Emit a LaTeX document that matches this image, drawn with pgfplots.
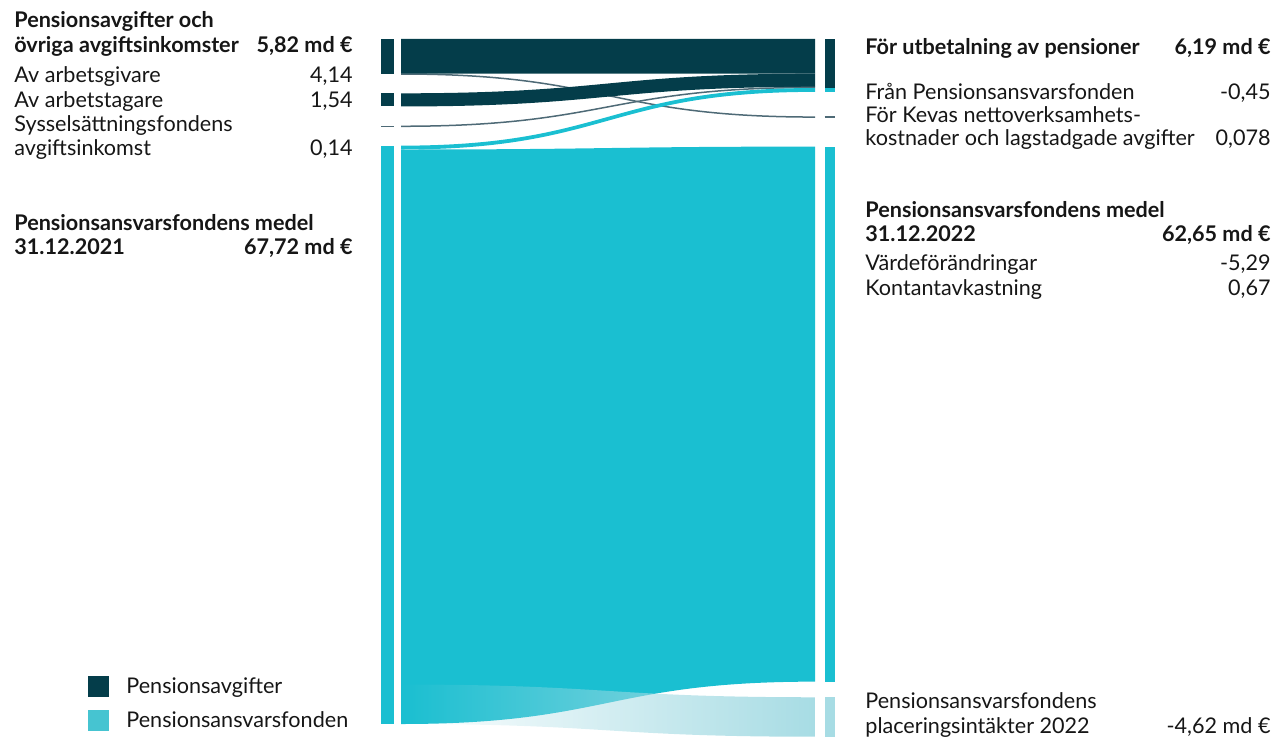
\documentclass[border=0pt]{standalone}
\usepackage{pgfplots}
\pgfplotsset{compat=1.18}
\usepackage{fontspec}
\setmainfont{Lato}
\usetikzlibrary{fadings}
\definecolor{dark}{HTML}{043D4A}
\definecolor{cyanc}{HTML}{1ABFD1}
\definecolor{lightc}{HTML}{A7DCE4}
\definecolor{legc}{HTML}{46C4D1}
\definecolor{thinc}{HTML}{4E6A76}
\definecolor{txt}{HTML}{161616}
\tikzfading[name=fadeleft, left color=transparent!100, right color=transparent!0]
% flow band: options, left top, left bottom, right top, right bottom (md EUR units)
\newcommand{\flow}[5]{%
  \fill[#1] (axis cs:401,#2) .. controls (axis cs:608,#2) and (axis cs:608,#4) .. (axis cs:815,#4)
    -- (axis cs:815,#5) .. controls (axis cs:608,#5) and (axis cs:608,#3) .. (axis cs:401,#3) -- cycle;}
\newcommand{\thinflow}[3]{%
  \draw[#1, line width=0.75pt] (axis cs:401,#2) .. controls (axis cs:608,#2) and (axis cs:608,#3) .. (axis cs:815,#3);}
\tikzset{
  rt/.style={font=\fontsize{10.8}{13}\selectfont, text=txt, inner sep=0pt},
  bt/.style={font=\fontsize{10.8}{13}\selectfont\bfseries, text=txt, inner sep=0pt},
}
\begin{document}
\begin{tikzpicture}
\useasboundingbox (0,0) rectangle (638.5pt,369pt);
% ---------- data axis: x in px, y in md EUR (stacked with gaps)
\begin{axis}[at={(0,0)}, anchor=south west, scale only axis,
  width=638.5pt, height=369pt, hide axis, clip=false,
  xmin=0, xmax=1277, ymin=-4.567, ymax=81.85, y dir=reverse]
% left nodes
\addplot[fill=dark, draw=none] coordinates {(381,0) (393.5,0) (393.5,4.14) (381,4.14)};
\addplot[fill=dark, draw=none] coordinates {(381,6.36) (393.5,6.36) (393.5,7.90) (381,7.90)};
\addplot[draw=thinc, line width=0.75pt] coordinates {(381,10.22) (393.5,10.22)};
\addplot[fill=cyanc, draw=none] coordinates {(381,12.49) (393.5,12.49) (393.5,80.21) (381,80.21)};
% right nodes
\addplot[fill=dark, draw=none] coordinates {(824.5,0) (835,0) (835,5.742) (824.5,5.742)};
\addplot[fill=cyanc, draw=none] coordinates {(824.5,5.742) (835,5.742) (835,6.19) (824.5,6.19)};
\addplot[draw=thinc, line width=0.75pt] coordinates {(824.5,9.14) (835,9.14)};
\addplot[fill=cyanc, draw=none] coordinates {(824.5,12.60) (835,12.60) (835,75.25) (824.5,75.25)};
\addplot[fill=lightc, draw=none] coordinates {(824.5,77.08) (835,77.08) (835,81.70) (824.5,81.70)};
% flows
\thinflow{thinc}{4.10}{9.14}
\flow{dark}{0}{4.062}{0}{4.062}
\flow{dark}{6.36}{7.90}{4.062}{5.602}
\thinflow{thinc}{10.22}{5.672}
\flow{cyanc}{12.49}{12.94}{5.742}{6.19}
\flow{cyanc}{12.94}{80.21}{12.60}{75.25}
\flow{lightc, path fading=fadeleft}{75.59}{80.21}{77.08}{81.70}
\end{axis}
% ---------- text axis: pixel coordinates
\begin{axis}[at={(0,0)}, anchor=south west, scale only axis,
  width=638.5pt, height=369pt, hide axis, clip=false,
  xmin=0, xmax=1277, ymin=0, ymax=738, y dir=reverse]
% left column
\node[bt, anchor=base west] at (axis cs:14,28) {Pensionsavgifter och};
\node[bt, anchor=base west] at (axis cs:14,53) {övriga avgiftsinkomster};
\node[bt, anchor=base east] at (axis cs:353,53) {5,82 md €};
\node[rt, anchor=base west] at (axis cs:14,83) {Av arbetsgivare};
\node[rt, anchor=base east] at (axis cs:353,83) {4,14};
\node[rt, anchor=base west] at (axis cs:14,107) {Av arbetstagare};
\node[rt, anchor=base east] at (axis cs:353,107) {1,54};
\node[rt, anchor=base west] at (axis cs:14,131) {Sysselsättningsfondens};
\node[rt, anchor=base west] at (axis cs:14,155.5) {avgiftsinkomst};
\node[rt, anchor=base east] at (axis cs:353,155.5) {0,14};
\node[bt, anchor=base west] at (axis cs:14,230) {Pensionsansvarsfondens medel};
\node[bt, anchor=base west] at (axis cs:14,254) {31.12.2021};
\node[bt, anchor=base east] at (axis cs:353,254) {67,72 md €};
% right column
\node[bt, anchor=base west] at (axis cs:865,55) {För utbetalning av pensioner};
\node[bt, anchor=base east] at (axis cs:1271,55) {6,19 md €};
\node[rt, anchor=base west] at (axis cs:865,99) {Från Pensionsansvarsfonden};
\node[rt, anchor=base east] at (axis cs:1271,99) {-0,45};
\node[rt, anchor=base west] at (axis cs:865,122) {För Kevas nettoverksamhets-};
\node[rt, anchor=base west] at (axis cs:865,145) {kostnader och lagstadgade avgifter};
\node[rt, anchor=base east] at (axis cs:1271,145) {0,078};
\node[bt, anchor=base west] at (axis cs:865,217) {Pensionsansvarsfondens medel};
\node[bt, anchor=base west] at (axis cs:865,241.5) {31.12.2022};
\node[bt, anchor=base east] at (axis cs:1271,241.5) {62,65 md €};
\node[rt, anchor=base west] at (axis cs:865,270) {Värdeförändringar};
\node[rt, anchor=base east] at (axis cs:1271,270) {-5,29};
\node[rt, anchor=base west] at (axis cs:865,295) {Kontantavkastning};
\node[rt, anchor=base east] at (axis cs:1271,295) {0,67};
\node[rt, anchor=base west] at (axis cs:865,708) {Pensionsansvarsfondens};
\node[rt, anchor=base west] at (axis cs:865,733) {placeringsintäkter 2022};
\node[rt, anchor=base east] at (axis cs:1271,733) {-4,62 md €};
% legend
\fill[dark] (axis cs:88,676) rectangle (axis cs:109,697);
\fill[legc] (axis cs:88,710) rectangle (axis cs:109,731);
\node[rt, anchor=base west] at (axis cs:126,693) {Pensionsavgifter};
\node[rt, anchor=base west] at (axis cs:126,727) {Pensionsansvarsfonden};
\end{axis}
\end{tikzpicture}
\end{document}
